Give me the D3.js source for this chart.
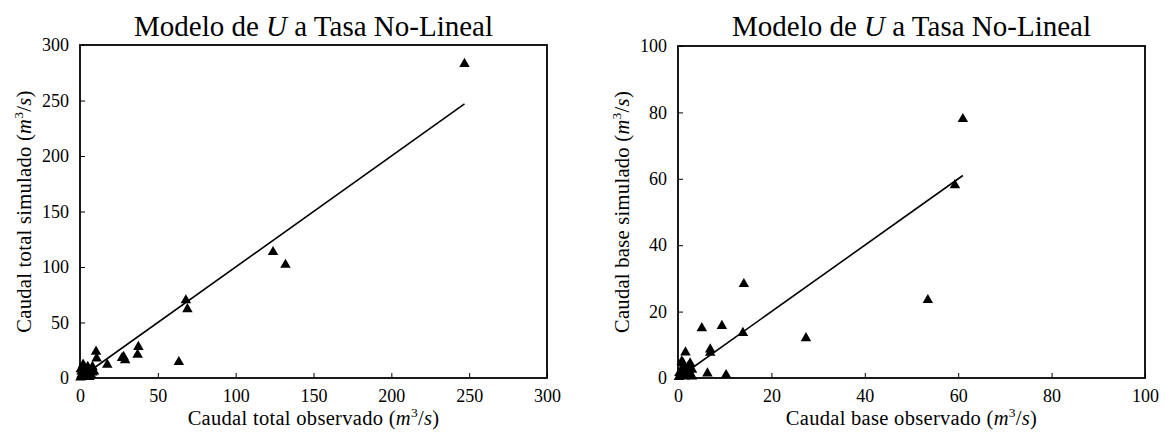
<!DOCTYPE html>
<html><head><meta charset="utf-8">
<script src="https://cdn.jsdelivr.net/npm/d3@7"></script>
<style>body{margin:0;background:#fff}svg{display:block}text{font-family:'Liberation Serif','Tinos','Times New Roman','DejaVu Serif',serif;fill:#000}</style>
</head><body><svg id="c" width="1173" height="436"></svg>
<script>
// Left chart: total flow (observed, simulated)
const totalObs = [247,124,132,68,69,63.5,37.5,37,28,29,27,17.5,10.3,10.7,
  1,2,1,3,4,5,6,2,0.5,7,8,5,3,6,1,4,8,2,0.3,9];
const totalSim = [283,113.5,102,70,62,14.4,28,21,19,16,18,12,23.7,17.7,
  1,3,6,9,2,4,7,12,8,3,5,10,5,1,3,7,10,2,0.5,6];
const totalLine = [0,247];
const totalTicks = [0,50,100,150,200,250,300];

// Right chart: base flow (observed, simulated)
const baseObs = [61,59.3,53.5,27.4,14.1,13.9,9.4,5.1,6.9,6.9,6.3,10.3,1.6,2.6,1.1,
  0.5,1,1.5,2.5,3,0.2,1,2,3,0.8,1.8,0.3,2.2];
const baseSim = [78,58.1,23.5,12,28.3,13.6,15.7,15,8.6,7.6,1.4,0.9,7.7,4.4,4.4,
  1,2,0.5,1.5,2.5,0.3,3,1,0.5,5,2,1.5,3.5];
const baseLine = [0,61];
const baseTicks = [0,20,40,60,80,100];

const titleText = ["Modelo de ", "U", " a Tasa No-Lineal"];
const xLabels = ["Caudal total observado ", "Caudal base observado "];
const yLabels = ["Caudal total simulado ", "Caudal base simulado "];

const svg = d3.select("#c");
const FONT = "'Liberation Serif','Tinos','Times New Roman','DejaVu Serif',serif";

function unitLabel(sel, base){
  sel.append("tspan").text(base+"(");
  sel.append("tspan").style("font-style","italic").text("m");
  sel.append("tspan").attr("dy",-8).style("font-size","13.5px").text("3");
  sel.append("tspan").attr("dy",8).text("/");
  sel.append("tspan").style("font-style","italic").text("s");
  sel.append("tspan").text(")");
}

function panel(cfg){
  const {x0,x1,y0,y1,max,ticks,obs,sim,line,xl,yl,ylx} = cfg;
  const x = d3.scaleLinear().domain([0,max]).range([x0,x1]);
  const y = d3.scaleLinear().domain([0,max]).range([y1,y0]);
  const g = svg.append("g");
  // title
  const t = g.append("text").attr("x",(x0+x1)/2).attr("y",36)
    .attr("text-anchor","middle").style("font-size","29px").style("font-family",FONT);
  t.append("tspan").text(titleText[0]);
  t.append("tspan").style("font-style","italic").text(titleText[1]);
  t.append("tspan").text(titleText[2]);
  // axes
  const xa = d3.axisBottom(x).tickValues(ticks).tickSize(-5).tickPadding(11).tickFormat(d3.format("d"));
  const ya = d3.axisLeft(y).tickValues(ticks).tickSize(-5).tickPadding(11).tickFormat(d3.format("d"));
  const gx = g.append("g").attr("transform",`translate(0,${y1})`).call(xa);
  const gy = g.append("g").attr("transform",`translate(${x0},0)`).call(ya);
  [gx,gy].forEach(a=>{
    a.attr("font-family",null).attr("font-size",null);
    a.select(".domain").remove();
    a.selectAll("line").attr("stroke","#000").attr("stroke-width",1);
    a.selectAll("text").style("font-size","18px").style("font-family",FONT);
  });
  // frame
  g.append("rect").attr("x",x0).attr("y",y0).attr("width",x1-x0).attr("height",y1-y0)
    .attr("fill","none").attr("stroke","#000").attr("stroke-width",1.8);
  // line
  g.append("line").attr("x1",x(line[0])).attr("y1",y(line[0])).attr("x2",x(line[1])).attr("y2",y(line[1]))
    .attr("stroke","#000").attr("stroke-width",1.6);
  // points
  const tri = d3.symbol().type(d3.symbolTriangle).size(48);
  g.selectAll("path.pt").data(obs.map((o,i)=>[o,sim[i]])).join("path")
    .attr("class","pt").attr("d",tri)
    .attr("transform",d=>`translate(${x(d[0])},${y(d[1])})`).attr("fill","#000");
  // x label
  const xt = g.append("text").attr("x",(x0+x1)/2).attr("y",425)
    .attr("text-anchor","middle").style("font-size","20.5px").style("letter-spacing","0.3px")
    .style("font-family",FONT);
  unitLabel(xt, xl);
  // y label
  const yt = g.append("text").attr("transform",`translate(${ylx},${(y0+y1)/2}) rotate(-90)`)
    .attr("text-anchor","middle").style("font-size","20.5px").style("letter-spacing","0.3px")
    .style("font-family",FONT);
  unitLabel(yt, yl);
}

panel({x0:80,x1:547,y0:45,y1:378,max:300,ticks:totalTicks,obs:totalObs,sim:totalSim,line:totalLine,xl:xLabels[0],yl:yLabels[0],ylx:31});
panel({x0:678,x1:1145,y0:46,y1:378,max:100,ticks:baseTicks,obs:baseObs,sim:baseSim,line:baseLine,xl:xLabels[1],yl:yLabels[1],ylx:629});
</script></body></html>
